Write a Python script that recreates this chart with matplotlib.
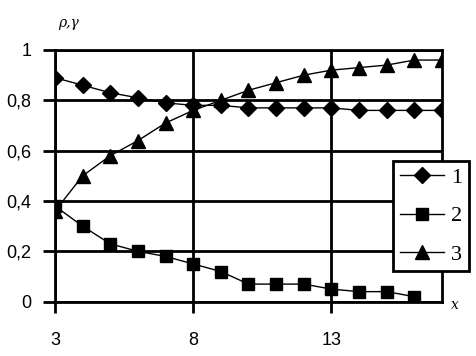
import matplotlib
matplotlib.use("Agg")
import matplotlib.pyplot as plt
from matplotlib.ticker import FuncFormatter

# data
x1 = [3, 4, 5, 6, 7, 8, 9, 10, 11, 12, 13, 14, 15, 16, 17]
s1 = [0.89, 0.86, 0.83, 0.81, 0.79, 0.78, 0.78, 0.77, 0.77, 0.77, 0.77, 0.76, 0.76, 0.76, 0.76]
x2 = [3, 4, 5, 6, 7, 8, 9, 10, 11, 12, 13, 14, 15, 16]
s2 = [0.38, 0.30, 0.23, 0.20, 0.18, 0.15, 0.12, 0.07, 0.07, 0.07, 0.05, 0.04, 0.04, 0.02]
x3 = [3, 4, 5, 6, 7, 8, 9, 10, 11, 12, 13, 14, 15, 16, 17]
s3 = [0.36, 0.50, 0.58, 0.64, 0.71, 0.76, 0.80, 0.84, 0.87, 0.90, 0.92, 0.93, 0.94, 0.96, 0.96]
labels = ["1", "2", "3"]
xticks = [3, 8, 13]
yticks = [0, 0.2, 0.4, 0.6, 0.8, 1.0]

fig = plt.figure(figsize=(4.76, 3.56), dpi=100)
ax = fig.add_axes([0.1155, 0.1525, 0.8131, 0.7071])

ax.plot(x1, s1, color="black", lw=1, marker="D", ms=8, label=labels[0])
ax.plot(x2, s2, color="black", lw=1, marker="s", ms=9, label=labels[1])
ax.plot(x3, s3, color="black", lw=1, marker="^", ms=10, label=labels[2])

ax.set_xlim(3, 17)
ax.set_ylim(0, 1)
ax.set_xticks(xticks)
ax.set_yticks(yticks)
ax.yaxis.set_major_formatter(FuncFormatter(lambda v, p: ("%g" % round(v, 1)).replace(".", ",")))
ax.grid(True, color="black", lw=2)
ax.set_axisbelow(True)
for sp in ax.spines.values():
    sp.set_linewidth(2)
ax.tick_params(axis="x", direction="out", length=8, width=2, pad=14, labelsize=13)
ax.tick_params(axis="y", direction="out", length=9, width=2, pad=8, labelsize=13)
for t in ax.get_xticklabels() + ax.get_yticklabels():
    t.set_family("Liberation Sans")

fig.text(0.122, 0.935, "ρ,γ", fontsize=10, style="italic", family="DejaVu Serif", ha="left", va="center")
fig.text(0.947, 0.142, "x", fontsize=10, style="italic", family="DejaVu Serif", ha="left", va="center")

leg = ax.legend(loc="upper left", bbox_to_anchor=(0.826, 0.548), bbox_transform=fig.transFigure,
                frameon=True, fancybox=False, edgecolor="black", framealpha=1,
                prop={"family": "Liberation Serif", "size": 16},
                handlelength=2.0, handletextpad=0.3, borderpad=0.3, labelspacing=0.8,
                borderaxespad=0)
leg.get_frame().set_linewidth(2)

fig.savefig("out.png", dpi=100)
